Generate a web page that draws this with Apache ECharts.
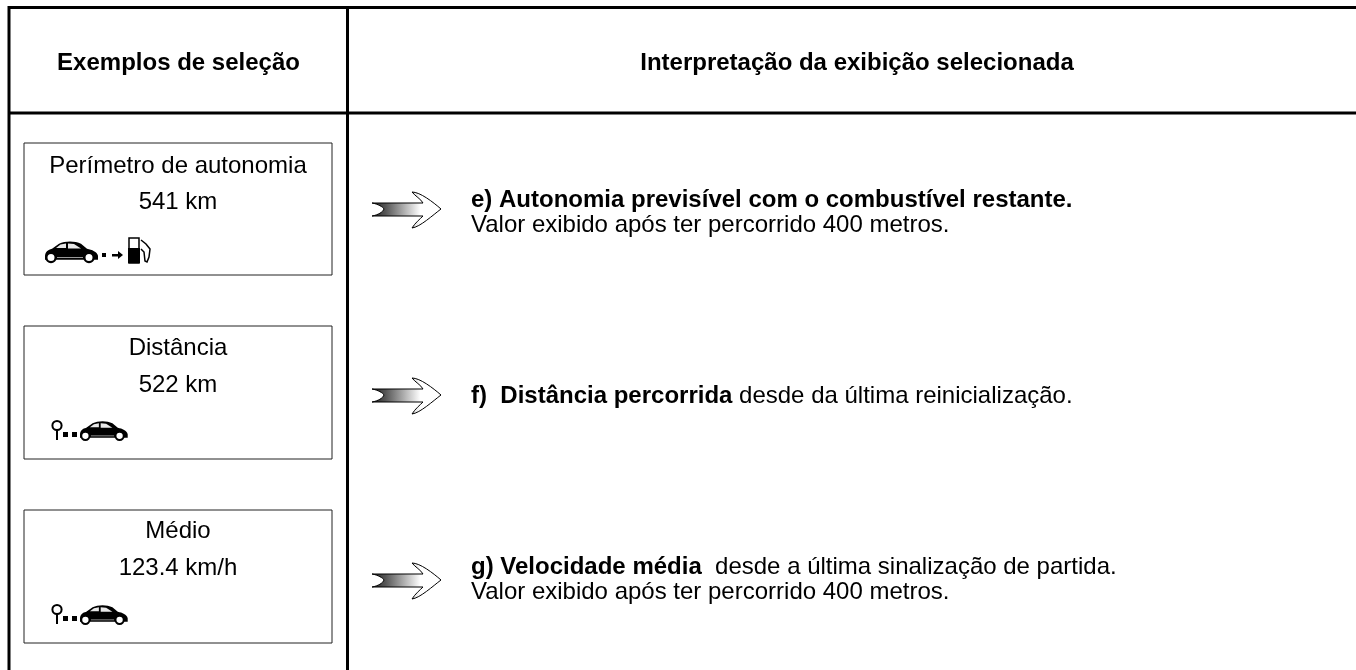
<!DOCTYPE html>
<html><head><meta charset="utf-8">
<style>html,body{margin:0;padding:0;background:#fff}#c{width:1356px;height:670px}</style>
<script src="https://cdn.jsdelivr.net/npm/echarts@6/dist/echarts.min.js"></script>
</head><body><div id="c"></div>
<script>
const headers = ['Exemplos de seleção', 'Interpretação da exibição selecionada'];
const boxTitles = ['Perímetro de autonomia', 'Distância', 'Médio'];
const boxValues = ['541 km', '522 km', '123.4 km/h'];
const boxIcons = ['range', 'trip', 'trip'];
const boldParts = ['e) Autonomia previsível com o combustível restante.', 'f)  Distância percorrida', 'g) Velocidade média'];
const inlineParts = ['', ' desde da última reinicialização.', '  desde a última sinalização de partida.'];
const secondLines = ['Valor exibido após ter percorrido 400 metros.', '', 'Valor exibido após ter percorrido 400 metros.'];

const FONT = '"Liberation Sans", Arial, sans-serif';
const boxTop = [143, 326, 510], boxH = [132, 133, 133];
const titleY = [166, 348, 531], valueY = [202, 385, 568];
const arrowY = [209, 395, 580];
const line1Y = [200, 396, 567], line2Y = [225, 0, 592];
const CAR = 'M0,16 C0,11 3,9 7,8 L14,3 C20,0 30,0 36,3 L42,8 C47,9 52,11 53,15 L53,19 L0,19 Z';
const ARROW = 'M0,-6 L51,-6 C49,-10 43,-13 40,-17 C48,-17 61,-7 69,0 C61,6 48,18 40,19 C43,14 48,10 51,7 L0,7 C6,6 11,3 12,0 C11,-2 6,-5 0,-6 Z';

function line(x1, y1, x2, y2, w, color) {
  return {type: 'line', shape: {x1, y1, x2, y2}, style: {stroke: color || '#000', lineWidth: w}, silent: true};
}
function text(x, y, t, size, bold, align) {
  return {type: 'text', x, y, silent: true, style: {text: t, x: 0, y: 0, fill: '#000',
    font: (bold ? 'bold ' : '') + size + 'px ' + FONT, align: align || 'left', verticalAlign: 'middle'}};
}
function car(x, y, s) {
  return {type: 'group', x, y, scaleX: s, scaleY: s, silent: true, children: [
    {type: 'path', shape: {pathData: CAR, x: 0, y: 0, width: 53, height: 19}, style: {fill: '#000'}},
    {type: 'polygon', shape: {points: [[11, 7], [15.5, 3.5], [21, 2.5], [21, 7]]}, style: {fill: '#e8e8e8'}},
    {type: 'polygon', shape: {points: [[23, 2.5], [29, 3], [36, 7.5], [23, 7.5]]}, style: {fill: '#e8e8e8'}},
    {type: 'line', shape: {x1: 12, y1: 16.5, x2: 38, y2: 16.5}, style: {stroke: '#999', lineWidth: 1}},
    {type: 'circle', shape: {cx: 6, cy: 16.5, r: 4.6}, style: {fill: '#fff', stroke: '#000', lineWidth: 2.2}},
    {type: 'circle', shape: {cx: 44, cy: 16.5, r: 4.6}, style: {fill: '#fff', stroke: '#000', lineWidth: 2.2}}
  ]};
}
function rangeIcon(top) {
  const y = top + 94;
  return [
    car(45, y + 4, 1),
    {type: 'rect', shape: {x: 102, y: y + 16, width: 4, height: 4}, style: {fill: '#000'}, silent: true},
    {type: 'rect', shape: {x: 112, y: y + 17, width: 7, height: 2.5}, style: {fill: '#000'}, silent: true},
    {type: 'polygon', shape: {points: [[118, y + 14], [123, y + 18], [118, y + 22]]}, style: {fill: '#000'}, silent: true},
    {type: 'rect', shape: {x: 129, y: y + 1, width: 10, height: 25}, style: {fill: '#fff', stroke: '#000', lineWidth: 1.5}, silent: true},
    {type: 'rect', shape: {x: 128, y: y + 11, width: 12, height: 15}, style: {fill: '#000'}, silent: true},
    {type: 'polyline', shape: {points: [[141, y + 3], [146, y + 7], [150, y + 12], [149, y + 20], [147, y + 25], [145, y + 24], [144, y + 15], [141, y + 12]]},
      style: {fill: 'none', stroke: '#000', lineWidth: 1.5}, silent: true}
  ];
}
function tripIcon(top) {
  const y = top + 95;
  return [
    {type: 'circle', shape: {cx: 57, cy: y + 4.5, r: 4.6}, style: {fill: '#fff', stroke: '#000', lineWidth: 2}, silent: true},
    line(57, y + 9, 57, y + 19, 2),
    {type: 'rect', shape: {x: 63, y: y + 11, width: 5, height: 5}, style: {fill: '#000'}, silent: true},
    {type: 'rect', shape: {x: 72, y: y + 11, width: 5, height: 5}, style: {fill: '#000'}, silent: true},
    car(80, y, 0.9)
  ];
}
function arrow(cy) {
  return {type: 'path', x: 372, y: cy, silent: true, shape: {pathData: ARROW, x: 0, y: -17, width: 69, height: 36},
    style: {stroke: '#000', lineWidth: 1,
      fill: {type: 'linear', x: 0, y: 0, x2: 1, y2: 0, colorStops: [
        {offset: 0, color: '#222'}, {offset: 0.2, color: '#555'}, {offset: 0.7, color: '#fff'}, {offset: 1, color: '#fff'}]}}};
}

function buildElements() {
  const els = [
    line(8, 7.5, 1356, 7.5, 3),
    line(8, 113, 1356, 113, 3),
    line(9, 6, 9, 670, 3),
    line(347.5, 6, 347.5, 670, 3),
    text(178.5, 63, headers[0], 24, true, 'center'),
    text(857, 63, headers[1], 24, true, 'center')
  ];
  boxTop.forEach((top, i) => {
    els.push({type: 'rect', silent: true, shape: {x: 24, y: top, width: 308, height: boxH[i]},
      style: {fill: '#fff', stroke: '#222', lineWidth: 1}});
    els.push(text(178, titleY[i], boxTitles[i], 24, false, 'center'));
    els.push(text(178, valueY[i], boxValues[i], 24, false, 'center'));
    els.push(...(boxIcons[i] === 'range' ? rangeIcon(top) : tripIcon(top)));
    els.push(arrow(arrowY[i]));
    els.push({type: 'text', x: 471, y: line1Y[i], silent: true, style: {
      text: '{b|' + boldParts[i] + '}' + (inlineParts[i] ? '{r|' + inlineParts[i] + '}' : ''),
      x: 0, y: 0, verticalAlign: 'middle', align: 'left',
      rich: {
        b: {font: 'bold 24px ' + FONT, fill: '#000'},
        r: {font: '24px ' + FONT, fill: '#000'}
      }}});
    if (secondLines[i]) els.push(text(471, line2Y[i], secondLines[i], 24, false));
  });
  return els;
}

const chart = echarts.init(document.getElementById('c'), null, {renderer: 'canvas'});
chart.setOption({animation: false, backgroundColor: '#fff', series: [{
  type: 'custom', coordinateSystem: 'none', silent: true, data: [[0]],
  renderItem: () => ({type: 'group', children: buildElements()})
}]});
</script></body></html>
